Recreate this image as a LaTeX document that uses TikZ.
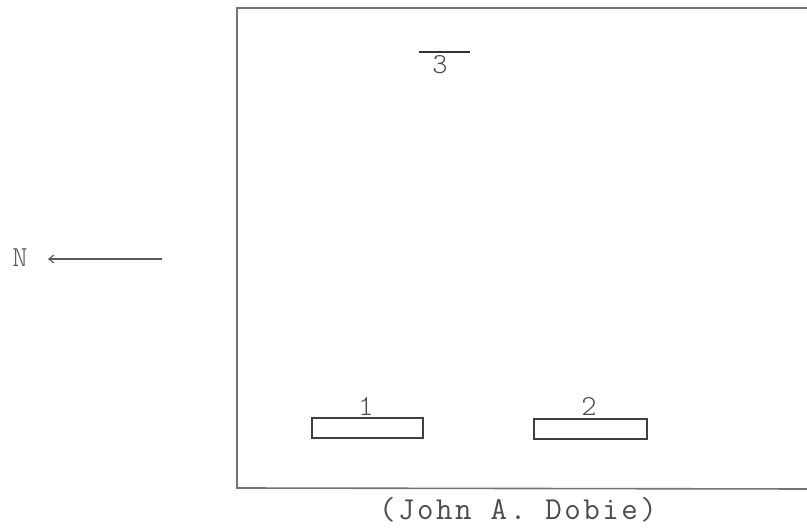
\documentclass[tikz,border=0pt]{standalone}
\usepackage{fontspec}
\newfontfamily\typew[LetterSpace=8]{Latin Modern Mono}
\newfontfamily\typewplain{Latin Modern Mono Light}
\usetikzlibrary{arrows.meta}
\begin{document}
\begin{tikzpicture}[x=1pt,y=-1pt,
  frame/.style={draw=black!55,line width=1.6pt},
  bldg/.style={draw=black!75,line width=1.3pt,minimum width=111pt,minimum height=20pt,inner sep=0pt},
  lbl/.style={font=\typewplain\fontsize{29}{29}\selectfont,text=black!70,inner sep=0pt},
  captiontext/.style={font=\typew\fontsize{32}{32}\selectfont,text=black!70,inner sep=0pt}]
\useasboundingbox (0,0) rectangle (807,529);
\coordinate (tr) at (807,8);
\coordinate (tl) at (237,8);
\coordinate (bl) at (237,488);
\coordinate (br) at (807,489);
\draw[frame] (tr) -- (tl) -- (bl) -- (br);
\node[bldg] (b1) at (367.5,428) {};
\node[bldg,minimum width=113pt] (b2) at (590.5,429) {};
\node[lbl] (l1) at (366,406) {1};
\node[lbl] (l2) at (589,406) {2};
\coordinate (s3a) at (419,52);
\coordinate (s3b) at (470,52);
\draw[draw=black!80,line width=1.5pt] (s3a) -- (s3b);
\node[lbl] (l3) at (440,65) {3};
\node[lbl] (n) at (20,258) {N};
\coordinate (ar0) at (162,259);
\coordinate (ar1) at (48,259);
\draw[draw=black!65,line width=1.1pt,-{Straight Barb[length=5pt,width=8pt]}] (ar0) -- (ar1);
\node[captiontext] (c) at (518,510) {(John A. Dobie)};
\end{tikzpicture}
\end{document}
